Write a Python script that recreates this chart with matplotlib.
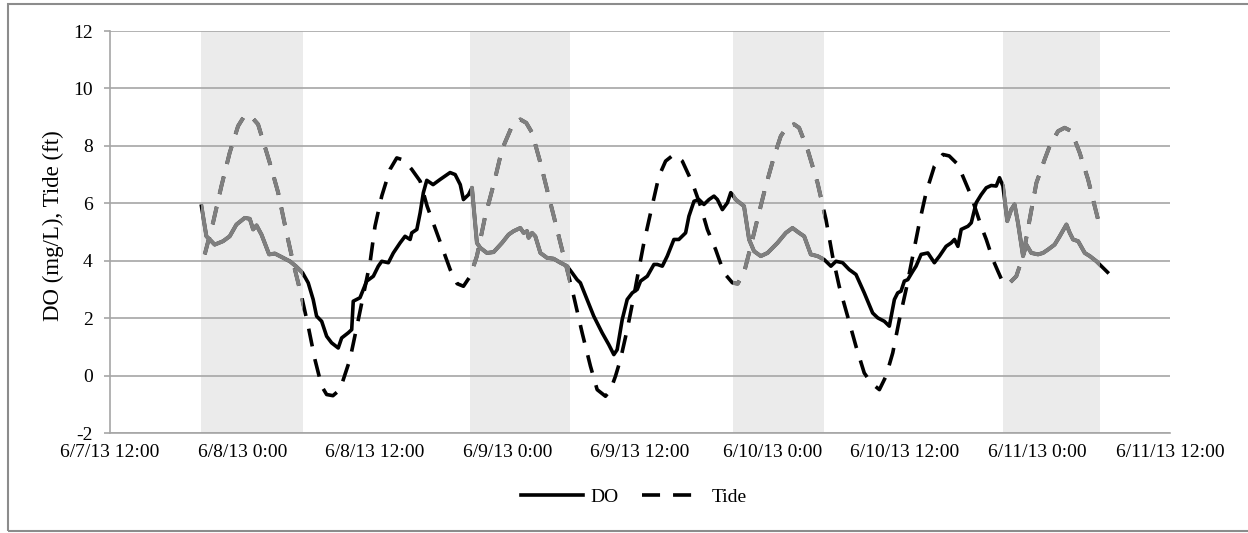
import matplotlib
matplotlib.use("Agg")
import matplotlib.pyplot as plt
from matplotlib.patches import Rectangle
import pandas as pd

plt.rcParams['font.family'] = ['Liberation Serif', 'DejaVu Serif']
plt.rcParams['axes.unicode_minus'] = False

# time origin of the x axis, all series times are hours after this
start = pd.Timestamp('2013-06-07 12:00')

# DO (mg/L)
do_hours = [8.28, 8.73, 9.03, 9.48, 10.24, 10.84, 11.45, 12.2, 12.66, 12.96, 13.27, 13.72,
            14.41, 14.93, 15.68, 16.29, 16.83, 17.44, 17.95, 18.4, 18.71, 19.17, 19.62, 20.07,
            20.67, 20.98, 21.58, 21.89, 22.03, 22.64, 22.94, 23.25, 23.85, 24.3, 24.61, 25.21,
            25.66, 26.27, 26.72, 27.18, 27.33, 27.79, 28.09, 28.38, 28.69, 29.26, 29.9, 30.8,
            31.26, 31.72, 32.01, 32.47, 32.78, 33.23, 33.53, 34.14, 34.74, 35.5, 36.1, 36.55,
            37.16, 37.46, 37.77, 37.91, 38.22, 38.52, 38.98, 39.58, 40.18, 40.79, 41.4, 41.85,
            42.3, 42.6, 43.21, 43.81, 44.57, 45.17, 45.63, 45.93, 46.39, 46.84, 47.3, 47.75,
            48.05, 48.66, 49.26, 49.57, 50.02, 50.47, 51.07, 51.52, 52.13, 52.43, 52.89, 53.34,
            53.79, 54.25, 54.7, 55.01, 55.46, 55.92, 56.22, 56.67, 57.42, 57.88, 58.33, 58.94,
            59.55, 60.45, 61.21, 61.81, 62.41, 62.87, 63.47, 64.08, 64.68, 65.29, 65.75, 66.35,
            66.95, 67.56, 68.31, 69.07, 69.53, 70.13, 70.58, 71.04, 71.34, 71.64, 71.94, 72.25,
            72.7, 73.0, 73.46, 74.07, 74.66, 75.12, 75.72, 76.18, 76.48, 76.79, 77.09, 77.7,
            78.0, 78.45, 78.9, 79.36, 79.81, 80.26, 80.56, 80.87, 81.26, 81.62, 81.92, 82.23,
            82.69, 82.99, 83.44, 84.05, 84.5, 84.96, 85.55, 86.01, 86.62, 86.92, 87.22, 87.68,
            88.28, 88.74, 89.34, 89.79, 90.34]
do_vals = [5.9, 4.85, 4.74, 4.56, 4.68, 4.85, 5.26, 5.49, 5.46, 5.09, 5.23, 4.91,
           4.22, 4.25, 4.1, 3.98, 3.81, 3.58, 3.23, 2.65, 2.07, 1.89, 1.37, 1.14,
           0.96, 1.31, 1.49, 1.6, 2.59, 2.71, 3.0, 3.29, 3.46, 3.81, 3.98, 3.93,
           4.27, 4.62, 4.85, 4.74, 4.97, 5.09, 5.67, 6.37, 6.8, 6.65, 6.83, 7.07,
           7.0, 6.65, 6.13, 6.3, 6.54, 4.62, 4.45, 4.27, 4.3, 4.62, 4.91, 5.03,
           5.14, 4.97, 5.03, 4.8, 4.97, 4.85, 4.27, 4.1, 4.07, 3.93, 3.81, 3.58,
           3.34, 3.23, 2.65, 2.07, 1.49, 1.08, 0.73, 0.9, 1.95, 2.65, 2.88, 3.0,
           3.29, 3.46, 3.87, 3.87, 3.81, 4.16, 4.74, 4.74, 4.97, 5.55, 6.07, 6.13,
           5.96, 6.13, 6.25, 6.13, 5.78, 6.02, 6.37, 6.13, 5.9, 4.74, 4.33, 4.16,
           4.27, 4.62, 4.97, 5.14, 4.97, 4.85, 4.22, 4.16, 4.04, 3.81, 3.98, 3.93,
           3.69, 3.52, 2.88, 2.18, 2.01, 1.89, 1.72, 2.65, 2.88, 2.94, 3.29, 3.34,
           3.63, 3.81, 4.22, 4.27, 3.93, 4.16, 4.5, 4.62, 4.74, 4.5, 5.09, 5.2,
           5.32, 6.02, 6.3, 6.54, 6.62, 6.6, 6.89, 6.6, 5.38, 5.78, 5.96, 5.32,
           4.16, 4.56, 4.27, 4.22, 4.27, 4.39, 4.56, 4.85, 5.26, 4.97, 4.74, 4.68,
           4.27, 4.16, 3.98, 3.81, 3.6]

# Tide (ft)
tide_hours = [8.58, 9.33, 10.09, 10.84, 11.6, 12.2, 12.84, 13.41, 14.47, 15.23, 15.99, 16.59,
              17.35, 17.95, 18.56, 19.17, 19.62, 20.19, 20.83, 21.73, 22.49, 23.55, 24.0, 24.61,
              25.36, 25.97, 26.63, 27.33, 28.09, 28.72, 29.6, 30.81, 31.44, 32.01, 32.62, 33.23,
              33.98, 34.74, 35.5, 36.41, 37.16, 37.7, 38.22, 38.98, 39.73, 40.34, 40.79, 41.4,
              42.0, 42.76, 43.51, 44.12, 44.87, 45.33, 45.78, 46.23, 46.84, 47.44, 47.89, 48.35,
              48.96, 49.71, 50.32, 51.07, 51.83, 52.74, 53.49, 54.1, 54.85, 55.6, 56.37, 56.85,
              57.42, 58.03, 58.78, 59.39, 60.15, 60.75, 61.36, 61.96, 62.41, 63.18, 64.08, 64.84,
              65.44, 66.04, 66.8, 67.56, 68.31, 68.92, 69.68, 70.28, 70.89, 71.49, 72.1, 72.7,
              73.3, 73.91, 74.66, 75.43, 76.0, 76.79, 77.24, 78.0, 78.9, 79.36, 79.96, 80.42,
              80.8, 81.33, 82.08, 82.69, 83.29, 83.9, 84.65, 85.1, 85.86, 86.46, 87.07, 87.82,
              88.58, 89.18, 89.64]
tide_vals = [4.22, 5.32, 6.6, 7.76, 8.69, 9.06, 9.0, 8.75, 7.41, 6.37, 4.97, 3.93,
             2.76, 1.72, 0.56, -0.37, -0.66, -0.7, -0.49, 0.56, 1.95, 3.93, 5.2, 6.25,
             7.18, 7.58, 7.5, 7.18, 6.77, 5.9, 4.97, 3.69, 3.2, 3.11, 3.46, 4.16,
             5.55, 6.65, 7.87, 8.69, 8.92, 8.8, 8.46, 7.41, 6.25, 5.32, 4.62, 3.69,
             2.76, 1.49, 0.33, -0.49, -0.72, -0.5, -0.02, 0.56, 1.6, 2.76, 3.69, 4.62,
             5.67, 6.94, 7.47, 7.7, 7.47, 6.71, 5.9, 5.09, 4.39, 3.58, 3.23, 3.2,
             3.58, 4.5, 5.67, 6.6, 7.64, 8.34, 8.69, 8.75, 8.63, 7.87, 6.71, 5.44,
             4.16, 3.11, 2.07, 1.02, 0.09, -0.25, -0.49, -0.02, 0.79, 1.95, 3.0, 4.16,
             5.32, 6.37, 7.29, 7.7, 7.65, 7.35, 6.94, 6.25, 5.2, 4.74, 4.04, 3.63,
             3.3, 3.17, 3.46, 4.16, 5.44, 6.71, 7.53, 7.99, 8.51, 8.63, 8.51, 7.76,
             6.83, 5.9, 5.2]

# night periods (shaded)
night_start = ['2013-06-07 20:13', '2013-06-08 20:37', '2013-06-09 20:28', '2013-06-10 20:55']
night_end = ['2013-06-08 05:29', '2013-06-09 05:37', '2013-06-10 04:41', '2013-06-11 05:38']

yticks = [-2, 0, 2, 4, 6, 8, 10, 12]

do_t = [start + pd.Timedelta(hours=h) for h in do_hours]
tide_t = [start + pd.Timedelta(hours=h) for h in tide_hours]

fig = plt.figure(figsize=(12.48, 5.33), dpi=100)
ax = fig.add_axes([110 / 1248, 1 - 433 / 533, 1060 / 1248, 402 / 533])

# outer chart border
fig.patches.append(Rectangle((8 / 1248, 2 / 533), 1.1, 1 - 6 / 533, transform=fig.transFigure,
                             fill=False, edgecolor='#8c8c8c', lw=1.5))

lw = 2.6
dash = (5.0, 3.6)
ax.plot(do_t, do_vals, color='black', lw=lw, zorder=2, label='DO')
ax.plot(tide_t, tide_vals, color='black', lw=lw, dashes=dash, zorder=2, label='Tide')

# night bands: lines inside them are drawn grey
for s, e in zip(night_start, night_end):
    band = ax.axvspan(pd.Timestamp(s), pd.Timestamp(e), color='#ebebeb', lw=0, zorder=0.2)
    l1, = ax.plot(do_t, do_vals, color='#7f7f7f', lw=lw + 0.3, zorder=2.1)
    l2, = ax.plot(tide_t, tide_vals, color='#7f7f7f', lw=lw + 0.3,
                  dashes=(dash[0] * lw / (lw + 0.3), dash[1] * lw / (lw + 0.3)), zorder=2.1)
    l1.set_clip_path(band)
    l2.set_clip_path(band)

ax.set_xlim(start, start + pd.Timedelta(hours=96))
ax.set_ylim(-2, 12)
ax.set_yticks(yticks)
ax.set_yticklabels([str(v) for v in yticks])

xt = pd.date_range(start, periods=9, freq='12h')
ax.set_xticks(xt)
ax.set_xticklabels([f"{d.month}/{d.day}/13 {d.hour}:{d.minute:02d}" for d in xt])

ax.set_axisbelow('line')
ax.yaxis.grid(True, color='#a6a6a6', lw=1.2)
for sp in ['top', 'right']:
    ax.spines[sp].set_visible(False)
for sp in ['left', 'bottom']:
    ax.spines[sp].set_color('#a6a6a6')
    ax.spines[sp].set_linewidth(1.2)
ax.tick_params(axis='y', length=4.5, width=1.2, color='#a6a6a6', pad=8, labelsize=14)
ax.tick_params(axis='x', length=0, pad=8, labelsize=14)

ax.set_ylabel('DO (mg/L), Tide (ft)', fontsize=16.5)
ax.yaxis.set_label_coords(-0.043, 0.515)

fig.legend(loc='center', bbox_to_anchor=(0.508, 0.068), ncol=2, frameon=False, fontsize=14,
           handlelength=3.2, handletextpad=0.4, columnspacing=1.2)

fig.savefig('out.png', dpi=100)
